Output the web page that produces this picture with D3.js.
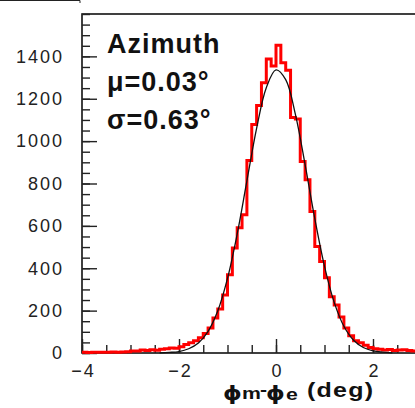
<!DOCTYPE html>
<html>
<head>
<meta charset="utf-8">
<style>
  body { margin: 0; background: #fff; }
  svg { display: block; }
  .tick text { font-family: "Liberation Sans", Arial, sans-serif; font-size: 18px; fill: #222; }
</style>
</head>
<body>
<svg id="chart" width="415" height="408"></svg>
<script src="https://d3js.org/d3.v7.min.js"></script>
<script>
// histogram: 80 bins of 0.1 deg from -4 to 4
const binStart = -4, binWidth = 0.1;
const counts = [
  3, 2, 3, 4, 3, 4, 5, 4, 5, 6,
  10, 9, 14, 12, 15, 13, 18, 20, 24, 22,
  30, 40, 48, 58, 72, 92, 118, 165, 208, 274,
  369, 496, 591, 652, 908, 1078, 1168, 1275, 1388, 1354,
  1452, 1370, 1335, 1111, 1105, 904, 818, 668, 503, 432,
  355, 266, 226, 170, 118, 82, 58, 48, 36, 26,
  20, 18, 14, 16, 12, 14, 15, 12, 10, 8,
  7, 6, 5, 5, 4, 4, 3, 3, 2, 2
];

// gaussian fit curve
const fitX = [-2.4, -2.2, -2.0, -1.8, -1.6, -1.4, -1.2, -1.0, -0.8, -0.6, -0.4, -0.2, 0.0,
              0.2, 0.4, 0.6, 0.8, 1.0, 1.2, 1.4, 1.6, 1.8, 2.0, 2.2, 2.4];
const fitY = [1, 3, 7, 20, 47, 102, 199, 352, 562, 812, 1060, 1252, 1336,
              1290, 1126, 889, 634, 409, 239, 126, 60, 26, 10, 4, 1];

const yMajor = [0, 200, 400, 600, 800, 1000, 1200, 1400];
const xMajor = [-4, -2, 0, 2];
const labels = ["Azimuth", "μ=0.03°", "σ=0.63°"];

const svg = d3.select('#chart');
const mLeft = 82, mTop = 14, mBottom = 353, mRight = 470;

const x = d3.scaleLinear().domain([-4, 4]).range([mLeft, mRight]);
const y = d3.scaleLinear().domain([0, 1600]).range([mBottom, mTop]);

// fragment of the panel above
svg.append('path').attr('d', 'M0,0.5H80V3').attr('stroke', '#222').attr('fill', 'none');

// frame
svg.append('rect')
  .attr('x', mLeft).attr('y', mTop)
  .attr('width', mRight - mLeft).attr('height', mBottom - mTop)
  .attr('fill', 'none').attr('stroke', '#111').attr('stroke-width', 1.6);

// minor ticks
svg.append('g')
  .attr('transform', `translate(${mLeft},0)`)
  .call(d3.axisLeft(y).tickValues(d3.range(0, 1601, 50)).tickSizeInner(-8).tickSizeOuter(0).tickFormat(''))
  .call(g => g.select('.domain').remove())
  .selectAll('line').attr('stroke', '#222').attr('stroke-width', 1.4);

svg.append('g')
  .attr('transform', `translate(0,${mBottom})`)
  .call(d3.axisBottom(x).tickValues(d3.range(-4, 4.01, 0.5)).tickSizeInner(-8).tickSizeOuter(0).tickFormat(''))
  .call(g => g.select('.domain').remove())
  .selectAll('line').attr('stroke', '#222').attr('stroke-width', 1.4);

// major ticks + labels
const yAxis = svg.append('g')
  .attr('transform', `translate(${mLeft},0)`)
  .call(d3.axisLeft(y).tickValues(yMajor).tickFormat(d3.format('d'))
    .tickSizeInner(-15).tickSizeOuter(0).tickPadding(20));
yAxis.select('.domain').remove();
yAxis.selectAll('line').attr('stroke', '#222').attr('stroke-width', 1.4);
yAxis.selectAll('text').attr('letter-spacing', 2).attr('dx', 2);

const xAxis = svg.append('g')
  .attr('transform', `translate(0,${mBottom})`)
  .call(d3.axisBottom(x).tickValues(xMajor).tickSizeInner(-14).tickSizeOuter(0).tickPadding(11));
xAxis.select('.domain').remove();
xAxis.selectAll('line').attr('stroke', '#222').attr('stroke-width', 1.4);
xAxis.selectAll('text').attr('letter-spacing', 2).attr('dx', 1);

// histogram as a step line
const steps = counts.map((c, i) => [binStart + i * binWidth, c]);
steps.push([binStart + counts.length * binWidth, counts[counts.length - 1]]);

const stepLine = d3.line()
  .x(d => x(d[0]))
  .y(d => y(d[1]))
  .curve(d3.curveStepAfter);

svg.append('path')
  .attr('d', stepLine(steps))
  .attr('fill', 'none')
  .attr('stroke', '#ff0000')
  .attr('stroke-width', 3);

// fit curve
const fitLine = d3.line()
  .x((d, i) => x(fitX[i]))
  .y(d => y(d))
  .curve(d3.curveCatmullRom);

svg.append('path')
  .attr('d', fitLine(fitY))
  .attr('fill', 'none')
  .attr('stroke', '#111')
  .attr('stroke-width', 1.3);

// labels inside the plot
svg.selectAll('text.lab')
  .data(labels)
  .join('text')
  .attr('class', 'lab')
  .attr('x', 107)
  .attr('y', (d, i) => 53 + i * 38)
  .attr('font-family', '"Liberation Sans", Arial, sans-serif')
  .attr('font-weight', 'bold')
  .attr('font-size', 27)
  .attr('letter-spacing', 1)
  .attr('fill', '#111')
  .text(d => d);

// x axis title (stretched a little, the original font is wide)
const title = svg.append('text')
  .attr('transform', 'translate(223,0) scale(1.25,1)')
  .attr('font-family', '"Liberation Sans", Arial, sans-serif')
  .attr('font-weight', 'bold')
  .attr('font-size', 20)
  .attr('fill', '#111');
title.append('tspan').attr('x', 0).attr('y', 400).attr('font-family', '"DejaVu Sans"').attr('font-size', 19).text('ϕ');
title.append('tspan').attr('x', 15.2).attr('y', 399).attr('font-size', 17).text('m');
title.append('tspan').attr('x', 29.6).attr('y', 395).attr('font-size', 17).text('-');
title.append('tspan').attr('x', 34.4).attr('y', 400).attr('font-family', '"DejaVu Sans"').attr('font-size', 19).text('ϕ');
title.append('tspan').attr('x', 50.4).attr('y', 400).attr('font-size', 17).text('e');
title.append('tspan').attr('x', 67.2).attr('y', 397).attr('letter-spacing', 1).text('(deg)');
</script>
</body>
</html>
